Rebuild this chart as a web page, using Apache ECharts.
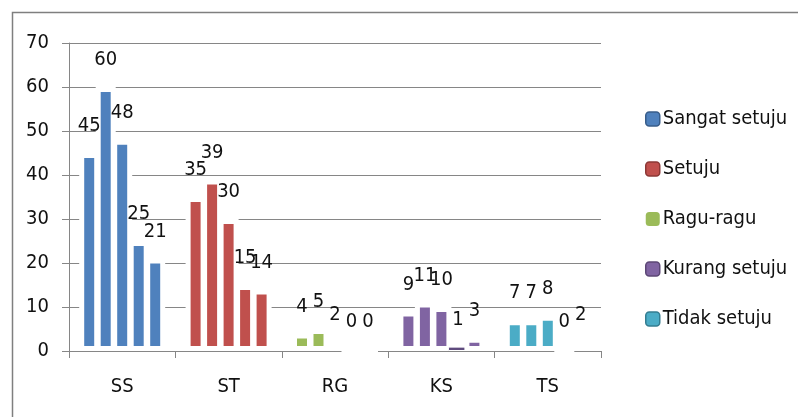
<!DOCTYPE html>
<html>
<head>
<meta charset="utf-8">
<script src="https://cdn.jsdelivr.net/npm/echarts@6/dist/echarts.min.js"></script>
<style>html,body{margin:0;padding:0;background:#fff}#c{width:798px;height:417px}</style>
</head>
<body>
<div id="c"></div>
<script>
var categories = ['SS', 'ST', 'RG', 'KS', 'TS'];
var legendNames = ['Sangat setuju', 'Setuju', 'Ragu-ragu', 'Kurang setuju', 'Tidak setuju'];
var colors = ['#4F81BD', '#C0504D', '#9BBB59', '#8064A2', '#4BACC6'];
var legendBorders = ['#385D8A', '#8C3836', null, '#5C4776', '#357D91'];
// values per category group (5 bars each)
var valSS = [45, 60, 48, 25, 21];
var valST = [35, 39, 30, 15, 14];
var valRG = [4, 5, 2, 0, 0];
var valKS = [9, 11, 10, 1, 3];
var valTS = [7, 7, 8, 0, 2];
var groups = [valSS, valST, valRG, valKS, valTS];
var yTicks = [0, 10, 20, 30, 40, 50, 60, 70];

var FONT = "'Liberation Sans Narrow', 'DejaVu Sans Condensed', 'Liberation Sans', sans-serif";
var chart = echarts.init(document.getElementById('c'), null, {renderer: 'canvas'});

var series = [];
for (var k = 0; k < 5; k++) {
  var data = [];
  for (var g = 0; g < 5; g++) {
    var item = {value: groups[g][k], itemStyle: {color: colors[g]}};
    if (g === 3 && k === 3) {
      item.itemStyle.color = '#5F4B7E';
      item.itemStyle.borderWidth = 1;
    }
    data.push(item);
  }
  series.push({
    name: legendNames[k],
    type: 'bar',
    barWidth: 20,
    barGap: '-17.5%',
    itemStyle: {color: colors[k], borderColor: '#ffffff', borderWidth: 5},
    label: {show: true, position: 'top', distance: 17, color: '#111', fontSize: 20, fontFamily: FONT},
    data: data
  });
}

chart.setOption({
  animation: false,
  backgroundColor: '#fff',
  graphic: [{
    type: 'rect', left: 10, top: 10, z: -1,
    shape: {width: 820, height: 440},
    style: {fill: 'none', stroke: '#7f7f7f', lineWidth: 1.5}
  }],
  grid: {left: 69, top: 43, right: 197, bottom: 66},
  legend: {
    orient: 'vertical', left: 640, top: 104,
    itemWidth: 14, itemHeight: 14, itemGap: 30,
    textStyle: {fontSize: 20, fontFamily: FONT, color: '#111', padding: [0, 0, 0, -2]},
    data: legendNames.map(function (n, i) {
      return {name: n, icon: 'roundRect', itemStyle: legendBorders[i]
        ? {color: colors[i], borderColor: legendBorders[i], borderWidth: 1.5}
        : {color: colors[i], borderWidth: 0}};
    })
  },
  xAxis: {
    type: 'category', data: categories,
    axisLine: {lineStyle: {color: '#868686', width: 1}},
    axisTick: {show: true, length: 7, lineStyle: {color: '#868686'}},
    axisLabel: {fontSize: 20, fontFamily: FONT, color: '#111', margin: 26}
  },
  yAxis: {
    type: 'value', min: 0, max: 70, interval: 10,
    axisLine: {show: true, lineStyle: {color: '#868686'}},
    axisTick: {show: true, length: 7, lineStyle: {color: '#868686'}},
    splitLine: {lineStyle: {color: '#868686', width: 1}},
    axisLabel: {fontSize: 20, fontFamily: FONT, color: '#111', margin: 20,
      formatter: function (v) { return yTicks.indexOf(v) >= 0 ? String(v) : ''; }}
  },
  series: series
});
</script>
</body>
</html>
